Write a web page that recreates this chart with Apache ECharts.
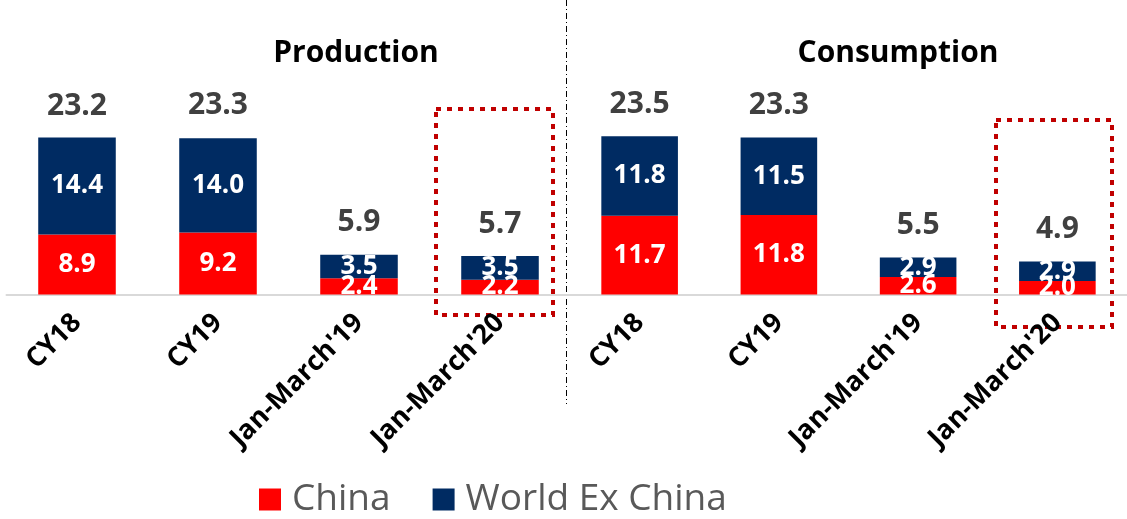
<!DOCTYPE html>
<html>
<head>
<meta charset="utf-8">
<script src="https://cdn.jsdelivr.net/npm/echarts@6/dist/echarts.min.js"></script>
<style>html,body{margin:0;padding:0;background:#fff}#c{width:1127px;height:519px}</style>
</head>
<body>
<div id="c"></div>
<script>
const periods = ['CY18', 'CY19', "Jan-March'19", "Jan-March'20"];
const prodChina = [8.9, 9.2, 2.4, 2.2];
const prodWorld = [14.4, 14.0, 3.5, 3.5];
const prodTotal = [23.2, 23.3, 5.9, 5.7];
const consChina = [11.7, 11.8, 2.6, 2.0];
const consWorld = [11.8, 11.5, 2.9, 2.9];
const consTotal = [23.5, 23.3, 5.5, 4.9];

const FONT = '"Open Sans", "Liberation Sans", sans-serif';
const RED = '#FF0000', NAVY = '#002B62';

const chart = echarts.init(document.getElementById('c'), null, {renderer: 'canvas'});

function xAx(i) {
  return {
    type: 'category', gridIndex: i, data: periods,
    axisTick: {show: false},
    axisLine: {lineStyle: {color: '#D9D9D9', width: 2}},
    axisLabel: {rotate: 45, margin: 24, interval: 0, color: '#000', fontFamily: FONT, fontWeight: 'bold', fontSize: 27}
  };
}
function yAx(i) {
  return {type: 'value', gridIndex: i, min: 0, max: 30, show: false, splitLine: {show: false}};
}
function barSeries(name, data, color, i) {
  return {
    name: name, type: 'bar', stack: 's' + i, xAxisIndex: i, yAxisIndex: i, data: data,
    barWidth: '55%', itemStyle: {color: color},
    label: {show: true, position: 'inside', color: '#fff', fontFamily: FONT, fontWeight: 'bold', fontSize: 26,
            formatter: p => p.value.toFixed(1)}
  };
}
function totalSeries(data, i) {
  return {
    type: 'scatter', xAxisIndex: i, yAxisIndex: i, data: data, symbolSize: 0, silent: true,
    itemStyle: {opacity: 1},
    label: {show: true, position: 'top', distance: 17, color: '#404040', fontFamily: FONT, fontWeight: 'bold', fontSize: 30,
            formatter: p => p.value.toFixed(1)}
  };
}

chart.setOption({
  animation: false,
  title: [
    {text: 'Production', left: 351, top: 33, textAlign: 'center',
     textStyle: {fontFamily: FONT, fontWeight: 'bold', fontSize: 30, color: '#000'}},
    {text: 'Consumption', left: 893, top: 33, textAlign: 'center',
     textStyle: {fontFamily: FONT, fontWeight: 'bold', fontSize: 30, color: '#000'}}
  ],
  legend: {
    data: ['China', 'World Ex China'], left: 254, top: 476,
    itemWidth: 22, itemHeight: 22, itemGap: 42, icon: 'rect',
    textStyle: {fontFamily: FONT, fontSize: 37, color: '#595959', padding: [0, 0, 0, 6]}
  },
  grid: [
    {left: 6.5, width: 564, top: 92.5, bottom: 224.5},
    {left: 570, width: 564, top: 92.5, bottom: 224.5}
  ],
  xAxis: [xAx(0), xAx(1)],
  yAxis: [yAx(0), yAx(1)],
  series: [
    barSeries('China', prodChina, RED, 0),
    barSeries('World Ex China', prodWorld, NAVY, 0),
    totalSeries(prodTotal, 0),
    barSeries('China', consChina, RED, 1),
    barSeries('World Ex China', consWorld, NAVY, 1),
    totalSeries(consTotal, 1)
  ],
  graphic: [
    {type: 'line', shape: {x1: 566.5, y1: 0, x2: 566.5, y2: 404},
     style: {stroke: '#000', lineWidth: 1, lineDash: [6, 3, 1, 3]}},
    {type: 'rect', shape: {x: 436, y: 109, width: 117, height: 206},
     style: {fill: 'none', stroke: '#C00000', lineWidth: 4, lineDash: [5, 6]}},
    {type: 'rect', shape: {x: 996, y: 120, width: 116, height: 207},
     style: {fill: 'none', stroke: '#C00000', lineWidth: 4, lineDash: [5, 6]}}
  ]
});
</script>
</body>
</html>
